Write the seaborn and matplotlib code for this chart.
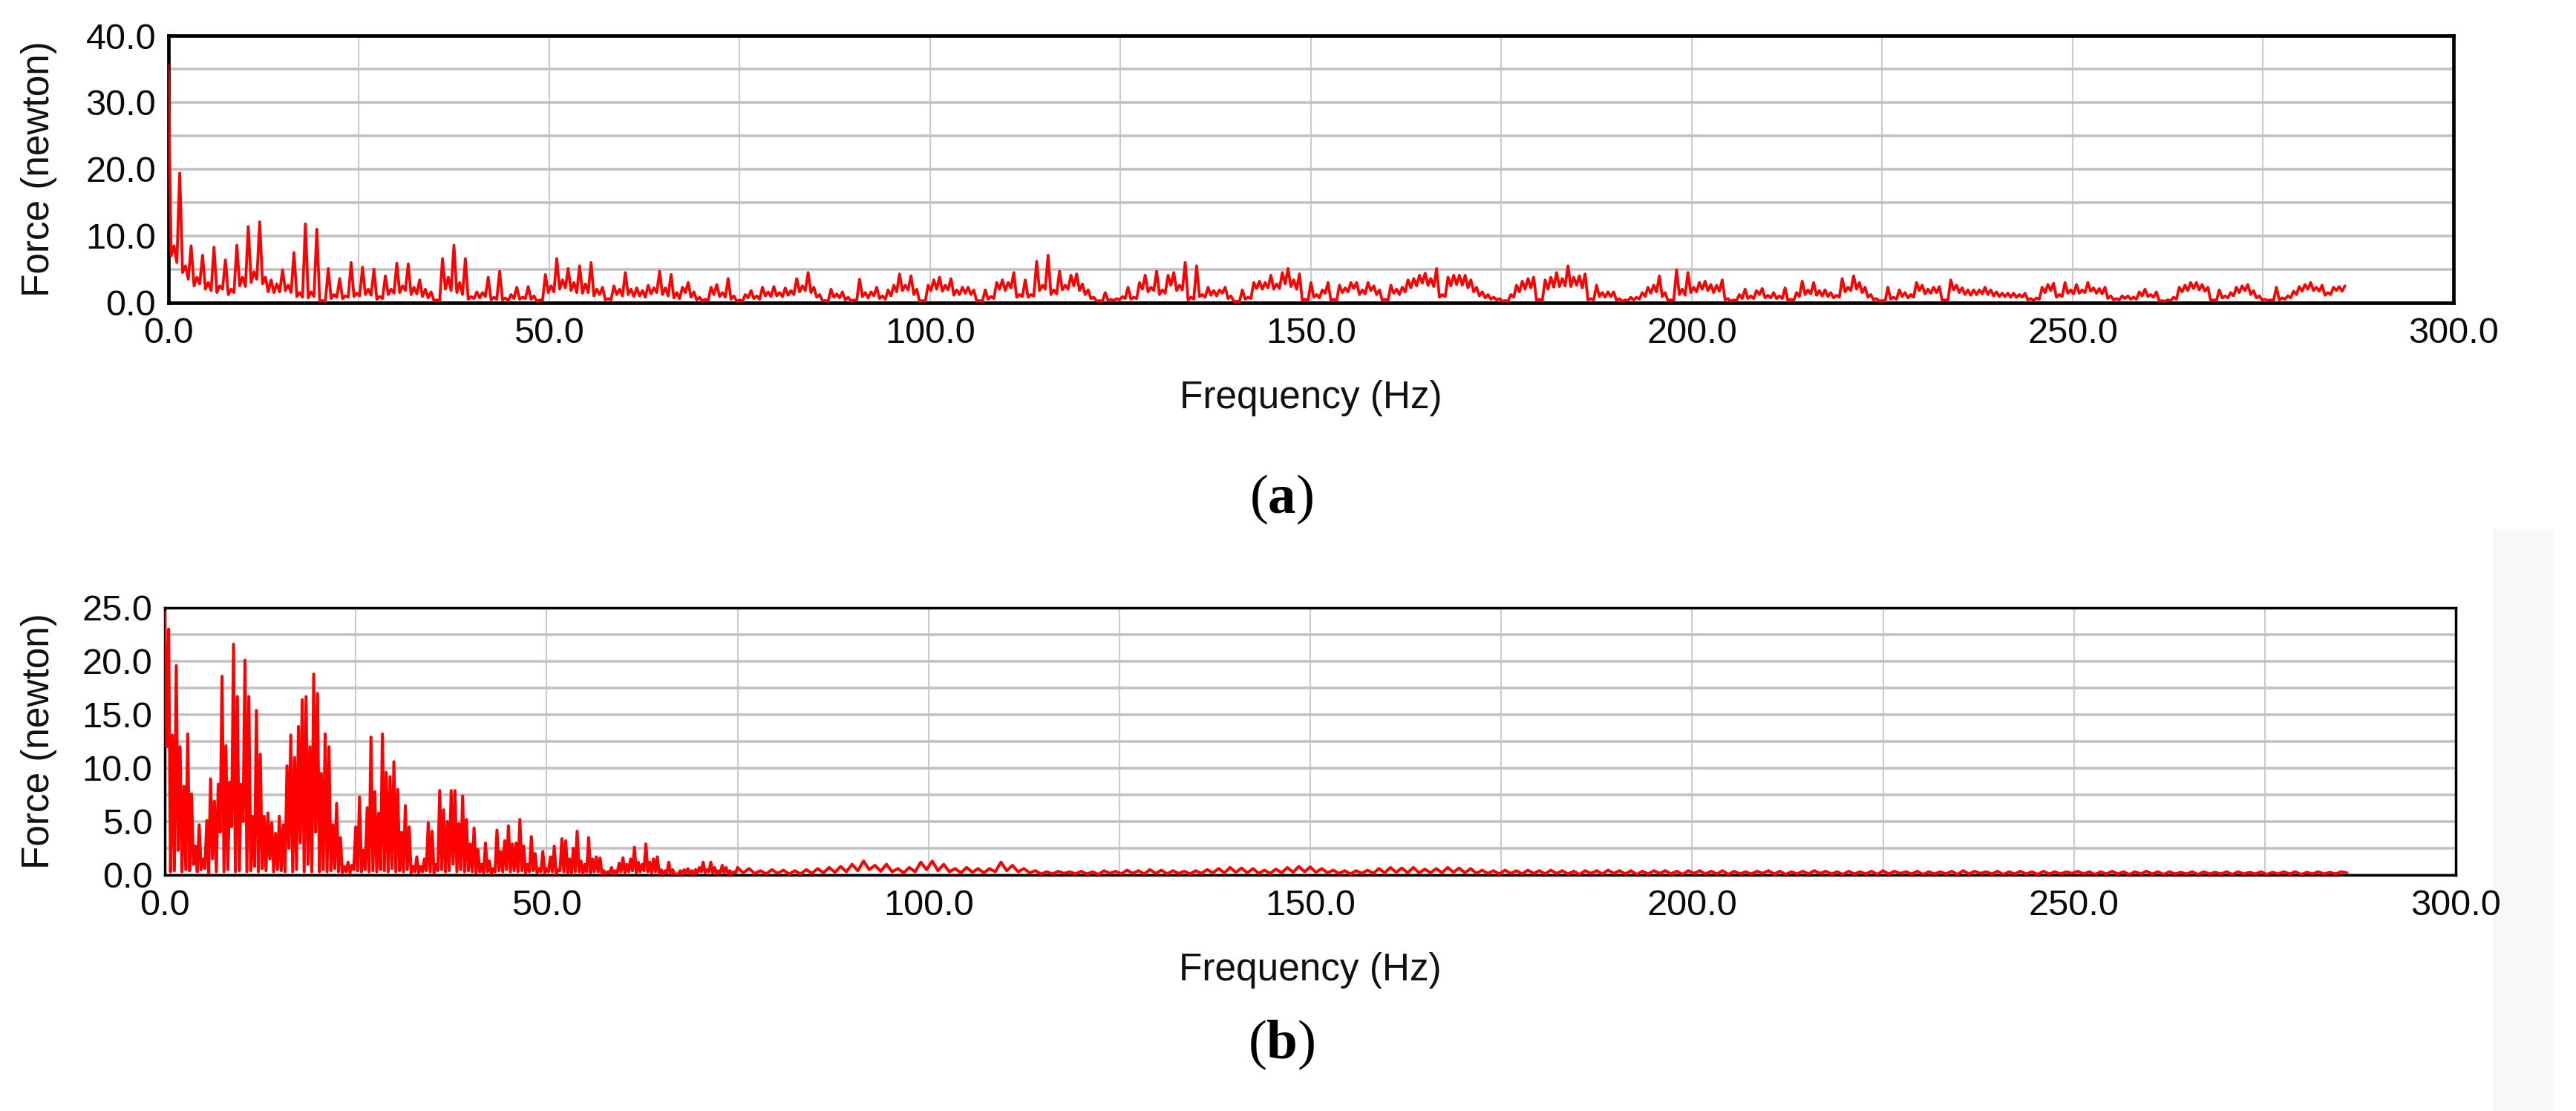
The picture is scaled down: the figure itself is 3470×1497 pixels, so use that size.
import numpy as np
import pandas as pd
import matplotlib
matplotlib.use("Agg")
import matplotlib.pyplot as plt
import seaborn as sns
from matplotlib.ticker import MultipleLocator, FormatStrFormatter
from matplotlib.patches import Rectangle

sns.set_style("white")
plt.rcParams['font.family'] = ['Liberation Sans', 'DejaVu Sans']
plt.rcParams['mathtext.fontset'] = 'custom'
plt.rcParams['mathtext.rm'] = 'Liberation Serif'
plt.rcParams['mathtext.bf'] = 'Liberation Serif:bold'

# ---------------- data ----------------
# (a) force spectrum: spike values every 0.75 Hz starting at 0 Hz ...
a_peak_step = 0.75
a_force = [
    35.6, 8.5, 19.4, 5.5, 8.5, 3.8, 7.1, 3.0, 8.3, 2.5,
    6.4, 2.0, 8.6, 3.8, 11.4, 4.6, 12.1, 3.8, 3.4, 2.8,
    4.9, 2.6, 7.5, 1.5, 11.8, 1.6, 11.0, 0.3, 5.1, 1.2,
    3.6, 1.0, 6.0, 1.4, 5.3, 2.0, 5.0, 0.9, 4.0, 2.0,
    5.9, 2.5, 5.8, 2.3, 3.4, 2.0, 1.6, 0.4, 6.6, 3.8,
    8.6, 3.0, 6.6, 0.9, 1.6, 1.5, 3.8, 0.8, 4.7, 0.7,
    1.2, 2.3, 0.8, 2.4, 1.0, 0.4, 4.2, 2.5, 6.6, 3.4,
    5.1, 3.0, 5.5, 2.8, 6.0, 2.0, 2.3, 0.6, 2.5, 2.0,
    4.5, 2.0, 2.2, 1.8, 2.6, 2.2, 4.7, 2.2, 4.2, 1.5,
    2.3, 3.0, 1.6, 0.8, 0.5, 2.3, 2.7, 1.5, 3.6, 1.0,
    0.4, 1.2, 1.8, 1.0, 2.3, 1.6, 2.4, 1.5, 2.2, 1.8,
    3.6, 2.5, 4.5, 2.3, 1.2, 0.3, 2.0, 1.3, 1.6, 0.8,
    0.4, 3.5, 1.5, 1.6, 2.3, 1.0, 1.9, 2.6, 4.3, 2.6,
    4.0, 2.0, 0.3, 2.6, 3.4, 3.8, 2.6, 3.6, 1.9, 2.3,
    2.3, 1.9, 0.3, 1.9, 0.9, 3.0, 3.4, 3.0, 4.5, 1.2,
    3.4, 1.2, 6.2, 2.6, 7.1, 1.9, 4.7, 2.6, 4.1, 4.3,
    2.8, 1.9, 0.8, 0.3, 1.5, 0.5, 0.6, 0.9, 2.3, 0.8,
    3.0, 4.1, 2.3, 4.7, 1.9, 4.1, 4.5, 2.6, 6.0, 0.8,
    5.5, 1.2, 2.3, 1.8, 1.9, 2.3, 1.0, 0.2, 1.9, 0.8,
    3.0, 3.2, 3.0, 4.1, 2.8, 4.5, 5.1, 3.4, 4.3, 0.5,
    3.0, 1.2, 1.9, 3.0, 0.5, 2.6, 2.2, 3.0, 3.0, 1.9,
    3.0, 2.5, 1.9, 0.5, 2.6, 2.0, 2.3, 3.4, 3.6, 4.1,
    4.4, 3.6, 5.1, 1.2, 3.8, 4.1, 4.1, 4.1, 3.4, 2.3,
    1.6, 1.2, 0.8, 0.6, 0.3, 1.2, 2.6, 3.2, 3.6, 3.8,
    0.5, 3.4, 3.8, 4.5, 3.6, 5.5, 3.8, 4.0, 4.3, 0.6,
    2.6, 1.5, 1.6, 1.6, 0.6, 0.4, 0.8, 0.8, 1.5, 2.3,
    2.6, 4.0, 1.5, 0.4, 4.9, 2.0, 4.5, 2.3, 3.0, 3.2,
    2.7, 2.6, 3.4, 0.6, 0.4, 1.2, 2.0, 1.0, 1.8, 2.1,
    1.1, 1.5, 1.0, 2.2, 0.5, 1.5, 3.2, 1.9, 3.0, 1.8,
    1.9, 1.5, 1.1, 3.6, 2.3, 4.0, 3.0, 2.3, 1.2, 0.6,
    0.3, 2.3, 0.8, 1.9, 1.5, 1.2, 3.0, 2.6, 2.0, 2.3,
    2.4, 0.4, 3.4, 2.6, 2.2, 1.9, 1.9, 1.9, 2.3, 1.9,
    1.6, 1.4, 1.4, 1.4, 1.2, 1.4, 0.6, 0.7, 2.3, 2.7,
    2.9, 1.2, 3.0, 1.9, 2.7, 1.9, 3.0, 2.2, 2.1, 2.3,
    1.0, 0.6, 1.0, 1.0, 0.8, 1.6, 2.0, 1.2, 1.6, 0.3,
    0.4, 0.8, 2.3, 2.6, 3.0, 3.0, 2.7, 2.3, 0.4, 1.9,
    1.0, 1.5, 2.3, 2.5, 2.7, 1.8, 1.0, 0.5, 0.4, 2.3,
    0.7, 1.0, 1.7, 2.4, 2.7, 3.0, 2.3, 2.6, 1.5, 2.3,
    2.4, 2.5,
]
# ... and the dips of the trace half-way between consecutive spikes
a_force_dips = [
    7.0, 6.0, 4.5, 3.5, 2.5, 2.8, 2.0, 1.8, 1.5, 2.0,
    1.2, 1.5, 2.5, 2.4, 3.0, 3.5, 2.8, 1.6, 1.5, 1.6,
    1.8, 1.5, 0.9, 0.8, 0.7, 0.9, 0.2, 0.2, 0.6, 0.8,
    0.6, 0.8, 0.9, 1.0, 1.2, 1.1, 0.5, 0.6, 1.2, 1.4,
    1.5, 1.8, 1.2, 1.3, 0.9, 0.7, 0.3, 0.3, 2.0, 1.8,
    1.5, 1.2, 0.5, 0.6, 0.7, 0.9, 0.4, 0.5, 0.4, 0.3,
    0.6, 0.5, 0.6, 0.5, 0.2, 0.3, 1.5, 1.6, 2.0, 2.2,
    1.8, 1.5, 1.4, 1.5, 1.0, 1.2, 0.4, 0.4, 1.2, 1.0,
    1.2, 0.9, 1.0, 0.8, 1.3, 1.5, 1.2, 1.0, 0.7, 0.6,
    1.5, 0.8, 0.4, 0.2, 0.3, 1.2, 0.9, 0.8, 0.5, 0.2,
    0.2, 0.7, 0.6, 0.5, 1.0, 0.9, 1.0, 0.9, 1.1, 1.2,
    1.6, 1.8, 1.5, 0.8, 0.3, 0.2, 0.8, 0.7, 0.4, 0.2,
    0.3, 0.9, 0.7, 1.0, 0.6, 0.5, 1.0, 1.6, 1.8, 1.9,
    1.2, 0.2, 0.2, 1.8, 2.0, 1.7, 1.9, 1.1, 1.2, 1.4,
    1.2, 0.2, 0.2, 0.5, 0.6, 2.0, 1.8, 2.2, 0.8, 0.9,
    0.8, 1.0, 1.8, 2.0, 1.2, 1.3, 1.9, 2.0, 2.5, 1.8,
    1.2, 0.6, 0.2, 0.2, 0.3, 0.3, 0.4, 0.6, 0.5, 0.6,
    2.0, 1.6, 1.8, 1.2, 1.4, 2.6, 1.8, 1.9, 0.4, 0.5,
    0.9, 0.8, 1.1, 1.0, 1.4, 0.6, 0.2, 0.2, 0.5, 0.6,
    2.1, 2.0, 2.2, 2.0, 2.1, 2.8, 2.4, 2.0, 0.3, 0.3,
    0.8, 0.7, 1.4, 0.3, 0.3, 1.5, 1.6, 2.1, 1.2, 1.3,
    1.8, 1.2, 0.3, 0.3, 1.4, 1.2, 1.6, 2.2, 2.5, 2.9,
    2.6, 2.4, 0.8, 0.9, 2.5, 2.7, 2.6, 2.2, 1.6, 1.0,
    0.7, 0.5, 0.4, 0.2, 0.2, 0.8, 1.6, 2.0, 2.2, 0.3,
    0.3, 2.0, 2.3, 2.4, 2.5, 2.4, 2.6, 2.2, 0.4, 0.4,
    0.9, 0.8, 0.9, 0.3, 0.2, 0.3, 0.4, 0.5, 0.9, 1.4,
    1.6, 0.9, 0.3, 0.3, 1.2, 1.1, 1.5, 1.6, 2.0, 1.8,
    1.5, 1.7, 0.4, 0.2, 0.3, 0.6, 0.6, 0.6, 1.2, 0.7,
    0.7, 0.6, 0.6, 0.3, 0.3, 0.9, 1.2, 1.3, 1.1, 1.0,
    0.9, 0.7, 0.8, 1.6, 1.8, 2.0, 1.5, 0.8, 0.4, 0.2,
    0.2, 0.5, 0.5, 0.9, 0.7, 0.8, 1.8, 1.3, 1.4, 1.5,
    0.3, 0.3, 1.9, 1.5, 1.2, 1.1, 1.2, 1.3, 1.2, 1.0,
    0.9, 0.9, 0.8, 0.8, 0.8, 0.4, 0.3, 0.5, 1.5, 1.8,
    0.8, 0.9, 1.4, 1.3, 1.4, 1.5, 1.7, 1.4, 1.3, 0.6,
    0.4, 0.4, 0.6, 0.5, 0.5, 1.0, 0.9, 0.8, 0.2, 0.2,
    0.3, 0.5, 1.6, 1.8, 2.1, 1.9, 1.7, 0.3, 0.3, 0.7,
    0.7, 1.0, 1.5, 1.8, 1.2, 0.7, 0.4, 0.3, 0.3, 0.4,
    0.5, 0.7, 1.2, 1.7, 2.0, 1.8, 1.7, 1.1, 1.2, 1.8,
    1.7,
]

# (b) force spectrum, 0-75 Hz: peaks every 0.5 Hz (from 0 Hz), dips between them
b_low_step = 0.25
b_low_peaks = [
    24.6, 23.0, 13.1, 19.6, 12.0, 8.3, 13.2, 7.6, 2.7, 4.7,
    1.5, 5.1, 9.0, 6.9, 8.5, 18.6, 12.1, 8.7, 21.6, 16.7,
    8.5, 20.1, 16.7, 5.5, 15.4, 11.3, 5.5, 5.8, 4.9, 3.9,
    5.5, 4.7, 10.2, 13.1, 11.0, 13.9, 16.4, 16.7, 12.0, 18.8,
    17.0, 9.5, 13.2, 12.0, 4.7, 6.7, 3.5, 0.8, 1.2, 0.9,
    4.5, 7.3, 2.3, 6.3, 12.9, 7.8, 5.8, 13.2, 9.6, 9.2,
    10.6, 8.0, 4.0, 6.5, 4.5, 0.8, 1.7, 0.8, 1.5, 4.9,
    4.1, 1.0, 7.9, 6.1, 5.0, 7.9, 7.9, 4.8, 7.4, 5.2,
    2.9, 4.4, 2.4, 1.0, 3.0, 1.3, 0.6, 4.2, 2.2, 3.2,
    4.6, 2.9, 3.0, 5.2, 2.7, 1.0, 3.6, 2.0, 0.6, 2.2,
    0.6, 1.7, 2.7, 0.5, 3.4, 3.2, 1.5, 2.5, 4.1, 1.3,
    1.0, 3.5, 1.5, 1.7, 1.6, 0.4, 0.3, 0.7, 0.4, 1.1,
    1.6, 1.0, 1.5, 2.6, 1.2, 1.0, 2.9, 1.2, 1.5, 1.7,
    0.5, 0.4, 1.2, 0.5, 0.1, 0.4, 0.5, 0.6, 0.4, 0.5,
    0.7, 1.2, 0.5, 1.2, 0.7, 0.4, 0.9, 0.7, 0.4, 0.3,
]
b_low_dips = [
    12.0, 0.3, 0.4, 2.3, 0.3, 0.5, 0.4, 1.0, 0.3, 0.5,
    0.6, 0.2, 1.5, 0.3, 4.0, 0.3, 0.5, 4.5, 0.3, 0.4,
    5.0, 0.3, 0.4, 0.8, 0.3, 0.6, 0.4, 1.5, 0.3, 0.5,
    0.4, 0.3, 2.5, 0.3, 0.5, 3.0, 0.3, 1.0, 0.3, 4.0,
    0.3, 0.5, 0.3, 0.4, 0.6, 0.3, 0.2, 0.3, 0.2, 0.5,
    0.4, 0.3, 0.5, 0.3, 0.4, 0.3, 0.5, 0.4, 0.3, 0.6,
    0.3, 0.4, 0.3, 0.5, 0.2, 0.3, 0.2, 0.3, 0.4, 0.3,
    0.2, 0.4, 0.5, 0.3, 0.4, 1.0, 0.3, 0.5, 0.3, 0.4,
    0.3, 0.2, 0.3, 0.2, 0.3, 0.1, 0.3, 0.4, 0.3, 0.5,
    0.3, 0.4, 0.3, 0.4, 0.2, 0.3, 0.4, 0.2, 0.3, 0.2,
    0.3, 0.3, 0.1, 0.4, 0.3, 0.2, 0.2, 0.3, 0.3, 0.1,
    0.3, 0.2, 0.3, 0.3, 0.1, 0.1, 0.2, 0.1, 0.2, 0.3,
    0.2, 0.3, 0.4, 0.2, 0.3, 0.4, 0.3, 0.2, 0.3, 0.1,
    0.1, 0.2, 0.1, 0.05, 0.1, 0.1, 0.2, 0.1, 0.1, 0.2,
    0.3, 0.2, 0.3, 0.2, 0.1, 0.2, 0.2, 0.1, 0.1, 0.2,
]
# (b) 75-285.75 Hz: peaks every 1.5 Hz (from 75 Hz), dips between them
b_tail_start = 75.0
b_tail_step = 0.75
b_tail_peaks = [
    0.7, 0.6, 0.4, 0.5, 0.45, 0.4, 0.5, 0.6, 0.7, 0.8,
    1.0, 1.3, 0.9, 1.0, 0.6, 0.7, 1.2, 1.3, 1.0, 0.6,
    0.7, 0.6, 0.6, 1.2, 0.9, 0.6, 0.4, 0.3, 0.35, 0.3,
    0.35, 0.3, 0.4, 0.35, 0.45, 0.4, 0.5, 0.45, 0.4, 0.35,
    0.4, 0.5, 0.6, 0.7, 0.65, 0.6, 0.45, 0.55, 0.7, 0.8,
    0.75, 0.6, 0.45, 0.4, 0.4, 0.45, 0.6, 0.7, 0.65, 0.7,
    0.55, 0.6, 0.7, 0.65, 0.6, 0.45, 0.4, 0.45, 0.4, 0.45,
    0.4, 0.45, 0.4, 0.35, 0.4, 0.4, 0.45, 0.4, 0.4, 0.35,
    0.4, 0.4, 0.35, 0.4, 0.4, 0.35, 0.4, 0.35, 0.3, 0.35,
    0.4, 0.35, 0.3, 0.35, 0.4, 0.35, 0.3, 0.35, 0.3, 0.35,
    0.4, 0.35, 0.3, 0.35, 0.3, 0.3, 0.35, 0.4, 0.35, 0.3,
    0.35, 0.3, 0.35, 0.3, 0.35, 0.3, 0.3, 0.35, 0.3, 0.3,
    0.35, 0.3, 0.3, 0.35, 0.3, 0.3, 0.25, 0.3, 0.3, 0.25,
    0.3, 0.3, 0.25, 0.3, 0.25, 0.3, 0.3, 0.25, 0.3, 0.25,
    0.3,
]
b_tail_dips = [
    0.2, 0.15, 0.1, 0.15, 0.1, 0.1, 0.15, 0.2, 0.25, 0.3,
    0.4, 0.5, 0.35, 0.3, 0.2, 0.3, 0.5, 0.4, 0.3, 0.2,
    0.25, 0.2, 0.3, 0.4, 0.3, 0.2, 0.1, 0.1, 0.15, 0.1,
    0.1, 0.05, 0.15, 0.1, 0.15, 0.1, 0.15, 0.1, 0.15, 0.1,
    0.15, 0.2, 0.2, 0.25, 0.2, 0.15, 0.15, 0.2, 0.25, 0.3,
    0.25, 0.2, 0.15, 0.1, 0.15, 0.15, 0.2, 0.25, 0.2, 0.2,
    0.2, 0.2, 0.25, 0.2, 0.15, 0.15, 0.1, 0.15, 0.1, 0.15,
    0.1, 0.15, 0.1, 0.05, 0.15, 0.1, 0.15, 0.1, 0.05, 0.1,
    0.15, 0.1, 0.05, 0.15, 0.1, 0.1, 0.05, 0.1, 0.1, 0.15,
    0.1, 0.05, 0.1, 0.1, 0.15, 0.1, 0.05, 0.1, 0.1, 0.05,
    0.1, 0.15, 0.1, 0.05, 0.1, 0.1, 0.05, 0.1, 0.15, 0.1,
    0.05, 0.1, 0.1, 0.05, 0.1, 0.1, 0.15, 0.1, 0.05, 0.1,
    0.1, 0.05, 0.1, 0.1, 0.05, 0.1, 0.1, 0.05, 0.1, 0.1,
    0.05, 0.1, 0.1, 0.05, 0.1, 0.1, 0.05, 0.1, 0.1, 0.1,
    0.2,
]

x_label = 'Frequency (Hz)'
y_label = 'Force (newton)'

# ---------------- build tables ----------------
a_vals = np.append(np.column_stack([a_force[:-1], a_force_dips]).ravel(), a_force[-1])
df_a = pd.DataFrame({'freq': np.arange(len(a_vals)) * (a_peak_step / 2),
                     'force': a_vals})
low = np.column_stack([b_low_peaks, b_low_dips]).ravel()
tail = np.column_stack([b_tail_peaks, b_tail_dips]).ravel()
df_b = pd.DataFrame({
    'freq': np.concatenate([np.arange(len(low)) * b_low_step,
                            b_tail_start + np.arange(len(tail)) * b_tail_step]),
    'force': np.concatenate([low, tail]),
})

W, H = 3470, 1497
fig = plt.figure(figsize=(W / 100, H / 100), dpi=100)
fig.patch.set_facecolor('white')
fig.patches.append(Rectangle((3358 / W, 0), 80 / W, (H - 713) / H,
                             transform=fig.transFigure, color='#f8f8f8',
                             zorder=-5))

ax_a = fig.add_axes([226.7 / W, 1 - 407.7 / H, (3305 - 226.7) / W, (407.7 - 48) / H])
ax_b = fig.add_axes([222 / W, 1 - 1179 / H, (3308 - 222) / W, (1179 - 819) / H])

specs = [(ax_a, df_a, 40, 10, 5, 3.4, 2.7), (ax_b, df_b, 25, 5, 2.5, 2.5, 2.9)]
for ax, df, ymax, ymaj, ymin, spw, lw in specs:
    sns.lineplot(data=df, x='freq', y='force', ax=ax, color='#ff0000',
                 linewidth=lw, sort=False, estimator=None, zorder=3)
    ax.set_xlim(0, 300)
    ax.set_ylim(0, ymax)
    ax.xaxis.set_major_locator(MultipleLocator(50))
    ax.xaxis.set_minor_locator(MultipleLocator(25))
    ax.yaxis.set_major_locator(MultipleLocator(ymaj))
    ax.yaxis.set_minor_locator(MultipleLocator(ymin))
    ax.xaxis.set_major_formatter(FormatStrFormatter('%.1f'))
    ax.yaxis.set_major_formatter(FormatStrFormatter('%.1f'))
    ax.set_axisbelow(True)
    ax.grid(which='both', axis='y', color='#c2c2c2', linewidth=2.6)
    ax.grid(which='both', axis='x', color='#cbcbcb', linewidth=1.5)
    for s in ax.spines.values():
        s.set_color('black')
        s.set_linewidth(spw)
        s.set_visible(True)
    ax.tick_params(which='both', direction='out', color='black', width=2,
                   length=6, labelsize=35, labelcolor='#0a0a0a')
    ax.tick_params(axis='x', which='both', pad=8)
    ax.tick_params(axis='y', which='both', pad=6)
    ax.set_xlabel(x_label, fontsize=37, color='#111111')
    ax.set_ylabel(y_label, fontsize=37, color='#111111')
    ax.xaxis.set_label_coords(0.5, -0.29)

ax_a.yaxis.set_label_coords(-0.0486, 0.5)
ax_b.yaxis.set_label_coords(-0.047, 0.5)

fig.text(1726 / W, 1 - 673 / H, r'$(\mathbf{a})$', ha='center', va='center',
         fontsize=54, color='black')
fig.text(1726 / W, 1 - 1408 / H, r'$(\mathbf{b})$', ha='center', va='center',
         fontsize=54, color='black')

fig.savefig('out.png', dpi=100, facecolor='white')
